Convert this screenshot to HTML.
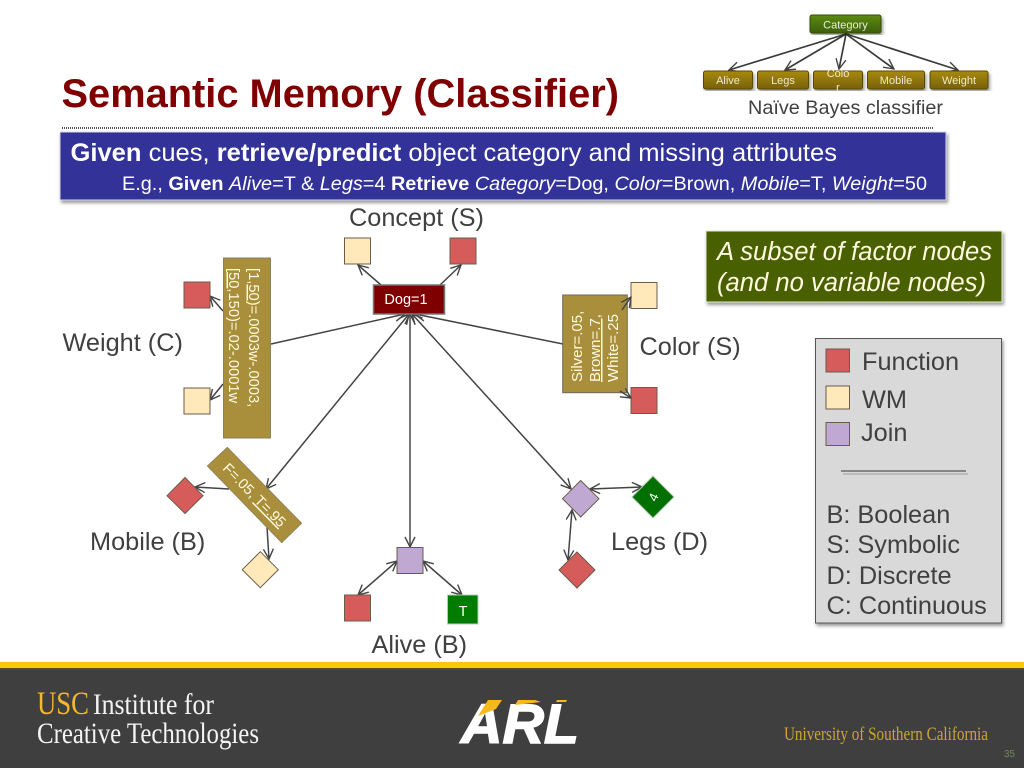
<!DOCTYPE html>
<html><head><meta charset="utf-8"><style>
html,body{margin:0;padding:0;background:#fff}
svg{display:block}
text{font-family:"Liberation Sans",sans-serif}
.l{font-size:25.300px;fill:#404040}
.s{font-size:11px;fill:#fff;text-anchor:middle}
.e{stroke:#3a3a3a;stroke-width:1.700;fill:none}
.a{stroke:#444;stroke-width:1.500;fill:none}
</style></head><body>
<svg width="1024" height="768" viewBox="0 0 1024 768" xmlns="http://www.w3.org/2000/svg">
<defs>
<marker id="m" viewBox="0 0 12 12" refX="11" refY="6" markerWidth="12" markerHeight="12" markerUnits="userSpaceOnUse" orient="auto-start-reverse"><path d="M1 1L11 6L1 11" fill="none" stroke="#444" stroke-width="1.400"/></marker>
<linearGradient id="g1" x1="0" y1="0" x2="0" y2="1"><stop offset="0" stop-color="#5d8a14"/><stop offset="1" stop-color="#3c5f08"/></linearGradient>
<linearGradient id="g2" x1="0" y1="0" x2="0" y2="1"><stop offset="0" stop-color="#a88a10"/><stop offset="1" stop-color="#776008"/></linearGradient>
<filter id="sh" x="-10%" y="-10%" width="120%" height="120%"><feDropShadow dx="1.500" dy="2.500" stdDeviation="1.500" flood-color="#000" flood-opacity=".4"/></filter>
</defs>

<!-- top mini bayes net -->
<g class="e">
<path d="M846 34L729 70" marker-end="url(#m)"/><path d="M846 34L785 70" marker-end="url(#m)"/><path d="M846 34L839 69" marker-end="url(#m)"/><path d="M846 34L894 69" marker-end="url(#m)"/><path d="M846 34L958 70" marker-end="url(#m)"/>
</g>
<rect x="810" y="15" width="71" height="18" rx="2" fill="url(#g1)" stroke="#345005" filter="url(#sh)"/>
<text x="845.500" y="28.500" class="s" style="fill:#e8f0d8">Category</text>
<g fill="url(#g2)" stroke="#5c4a06" filter="url(#sh)">
<rect x="703.500" y="71" width="49" height="18" rx="2"/><rect x="757.500" y="71" width="51" height="18" rx="2"/><rect x="813.500" y="71" width="49" height="18" rx="2"/><rect x="867.500" y="71" width="57" height="18" rx="2"/><rect x="930" y="71" width="58" height="18" rx="2"/>
</g>
<text x="728" y="84" class="s" style="fill:#efe9c8">Alive</text><text x="783" y="84" class="s" style="fill:#efe9c8">Legs</text>
<text x="838" y="77" class="s" style="fill:#efe9c8">Colo</text><text x="838" y="91" class="s" style="fill:#efe9c8">r</text>
<text x="896" y="84" class="s" style="fill:#efe9c8">Mobile</text><text x="959" y="84" class="s" style="fill:#efe9c8">Weight</text>
<text x="748" y="114" textLength="195" lengthAdjust="spacingAndGlyphs" style="font-size:19.800px;fill:#404040">Naïve Bayes classifier</text>

<!-- title -->
<text x="61.500" y="107" textLength="557.500" lengthAdjust="spacingAndGlyphs" style="font-size:39.500px;font-weight:bold;fill:#7f0000">Semantic Memory (Classifier)</text>
<line x1="62" y1="128" x2="933" y2="128" stroke="#555" stroke-width="2" stroke-dasharray="1 1"/>

<!-- blue box -->
<rect x="60" y="132" width="886" height="68" fill="#333399" stroke="#d8d8e8" filter="url(#sh)"/>
<text x="70.500" y="161" textLength="766.500" lengthAdjust="spacingAndGlyphs" style="font-size:25px;fill:#fff"><tspan font-weight="bold">Given</tspan> cues, <tspan font-weight="bold">retrieve/predict</tspan> object category and missing attributes</text>
<text x="122" y="190" textLength="805" lengthAdjust="spacingAndGlyphs" style="font-size:19.500px;fill:#fff">E.g., <tspan font-weight="bold">Given</tspan> <tspan font-style="italic">Alive</tspan>=T &amp; <tspan font-style="italic">Legs</tspan>=4 <tspan font-weight="bold">Retrieve</tspan> <tspan font-style="italic">Category</tspan>=Dog, <tspan font-style="italic">Color</tspan>=Brown, <tspan font-style="italic">Mobile</tspan>=T, <tspan font-style="italic">Weight</tspan>=50</text>

<!-- green note -->
<rect x="706" y="231" width="296" height="71" fill="#4a6100" stroke="#e4ead0" filter="url(#sh)"/>
<text x="717" y="260" textLength="275" lengthAdjust="spacingAndGlyphs" style="font-size:25.500px;font-style:italic;fill:#fff8e0">A subset of factor nodes</text>
<text x="717" y="291" textLength="269" lengthAdjust="spacingAndGlyphs" style="font-size:25.500px;font-style:italic;fill:#fff8e0">(and no variable nodes)</text>

<!-- connectors -->
<g class="a">
<path d="M381 285L358 265" marker-end="url(#m)"/>
<path d="M440 285L461 265" marker-end="url(#m)"/>
<path d="M271 344L405 314" marker-end="url(#m)"/>
<path d="M563 344L415 314" marker-end="url(#m)"/>
<path d="M266 489L409 314" marker-start="url(#m)" marker-end="url(#m)"/>
<path d="M410 547L410 314" marker-start="url(#m)" marker-end="url(#m)" stroke-width="1.800" stroke="#666"/>
<path d="M571 489L412 314" marker-start="url(#m)" marker-end="url(#m)"/>
<path d="M223 311L210 296" marker-end="url(#m)"/>
<path d="M223 384L210 400" marker-end="url(#m)"/>
<path d="M229 489L195 487" marker-end="url(#m)"/>
<path d="M267 527L269 559" marker-end="url(#m)"/>
<path d="M397 561L358 595" marker-start="url(#m)" marker-end="url(#m)"/>
<path d="M423 561L462 595" marker-start="url(#m)" marker-end="url(#m)"/>
<path d="M590 489L642 487" marker-start="url(#m)" marker-end="url(#m)"/>
<path d="M572 510L568 560" marker-start="url(#m)" marker-end="url(#m)"/>
</g>

<!-- nodes -->
<g stroke="#6a5c4a" stroke-width="1">
<rect x="344.500" y="238" width="26" height="26" fill="#ffe8ba"/>
<rect x="450" y="238" width="26" height="26" fill="#d65c5c"/>
<rect x="184" y="282" width="26" height="26" fill="#d65c5c"/>
<rect x="184" y="388" width="26" height="26" fill="#ffe8ba"/>
<rect x="631" y="282.500" width="26" height="26" fill="#ffe8ba"/>
<rect x="631" y="387.500" width="26" height="26" fill="#d65c5c"/>
<rect x="397" y="547.500" width="26" height="26" fill="#bfa8d2"/>
<rect x="344.500" y="595" width="26" height="26" fill="#d65c5c"/>
<polygon points="185,477.500 203,495.700 185,513.500 167,495.700" fill="#d65c5c"/>
<polygon points="260.300,551.700 278.300,569.700 260.300,587.700 242.300,569.700" fill="#ffe8ba"/>
<polygon points="580.700,480.500 599,498.700 580.700,517 562.500,498.700" fill="#bfa8d2"/>
<polygon points="577,552 595,570 577,588 559,570" fill="#d65c5c"/>
</g>
<rect x="447.500" y="595" width="30.500" height="29" fill="#007c00" stroke="#b8c8b8"/>
<text x="463" y="616" text-anchor="middle" style="font-size:14.500px;fill:#fff">T</text>
<polygon points="653,476 674,497 653,518 632,497" fill="#007000" stroke="#b8c8b8"/>
<text x="653" y="502" text-anchor="middle" transform="rotate(-65 653 497)" style="font-size:13px;fill:#fff">4</text>

<rect x="373.500" y="285" width="71" height="29" fill="#7f0000" stroke="#777" stroke-width="1.500"/>
<text x="406" y="304" text-anchor="middle" style="font-size:14.500px;fill:#fff">Dog=1</text>

<!-- factor boxes -->
<rect x="223.500" y="258" width="47" height="180" fill="#a98e3b" stroke="#8a8062"/>
<g transform="translate(257 268) rotate(90)">
<text style="font-size:14.700px;fill:#fffbe0"><tspan x="0" y="8">[1,<tspan text-decoration="underline">50</tspan>)=.0003w-.0003,</tspan><tspan x="0" y="28"><tspan text-decoration="underline">[50</tspan>,150)=.02-.0001w</tspan></text>
</g>
<rect x="562.700" y="295" width="64.600" height="97.700" fill="#a98e3b" stroke="#6e6a55"/>
<g transform="translate(582 382) rotate(-90)">
<text style="font-size:15px;fill:#fffbe0"><tspan x="0" y="0">Silver=.05,</tspan><tspan x="0" y="18" text-decoration="underline">Brown=.7,</tspan><tspan x="0" y="36">White=.25</tspan></text>
</g>
<path d="M622 310L631 297" class="a" marker-end="url(#m)"/>
<path d="M620 391L631 398" class="a" marker-end="url(#m)"/>
<polygon points="227.300,447.300 207.300,466 281.700,542.700 301.700,523.300" fill="#a98e3b" stroke="#8a8062" stroke-width=".8"/>
<g transform="translate(254.500 495) rotate(45.500)">
<text x="0" y="5" text-anchor="middle" style="font-size:14.500px;fill:#fffbe0">F=.05, <tspan text-decoration="underline">T=.95</tspan></text>
</g>

<!-- labels -->
<text x="349" y="226" class="l">Concept (S)</text>
<text x="62.500" y="351" class="l">Weight (C)</text>
<text x="639.500" y="355" class="l">Color (S)</text>
<text x="90" y="550" class="l">Mobile (B)</text>
<text x="611" y="550" class="l">Legs (D)</text>
<text x="371.500" y="653" class="l">Alive (B)</text>

<!-- legend -->
<rect x="815.500" y="338.500" width="186" height="284.500" fill="#d9d9d9" stroke="#555" filter="url(#sh)"/>
<rect x="826" y="349" width="23.500" height="23" fill="#d65c5c" stroke="#6a5c4a"/>
<rect x="826" y="386" width="23.500" height="23" fill="#ffe8ba" stroke="#6a5c4a"/>
<rect x="826" y="422.500" width="23.500" height="23" fill="#bfa8d2" stroke="#6a5c4a"/>
<text x="862" y="370" class="l">Function</text>
<text x="862" y="408" class="l">WM</text>
<text x="861" y="441" class="l">Join</text>
<line x1="841" y1="471" x2="966" y2="471" stroke="#555" stroke-width="1.200"/>
<line x1="843" y1="474" x2="968" y2="474" stroke="#bbb" stroke-width="2"/>
<text x="826.500" y="523" class="l">B: Boolean</text>
<text x="826.500" y="553" class="l">S: Symbolic</text>
<text x="826.500" y="584" class="l">D: Discrete</text>
<text x="826.500" y="614" class="l">C: Continuous</text>

<!-- footer -->
<rect x="0" y="663" width="1024" height="105" fill="#3f3f3f"/>
<rect x="0" y="662" width="1024" height="6" fill="#fdc70c"/>
<rect x="0" y="668" width="1024" height="2" fill="#5a4d14"/>
<text x="37" y="714" textLength="52" lengthAdjust="spacingAndGlyphs" style="font-family:'Liberation Serif',serif;font-size:33px;fill:#f5b82a">USC</text>
<text x="93" y="714" textLength="121" lengthAdjust="spacingAndGlyphs" style="font-family:'Liberation Serif',serif;font-size:30px;fill:#f4f4f4">Institute for</text>
<text x="37" y="743" textLength="222" lengthAdjust="spacingAndGlyphs" style="font-family:'Liberation Serif',serif;font-size:30px;fill:#f4f4f4">Creative Technologies</text>
<text x="784" y="740" textLength="204" lengthAdjust="spacingAndGlyphs" style="font-family:'Liberation Serif',serif;font-size:19px;fill:#cda531">University of Southern California</text>
<!-- ARL logo -->
<text x="461" y="743" textLength="118" lengthAdjust="spacingAndGlyphs" style="font-size:56px;font-weight:bold;font-style:italic;fill:#fff;stroke:#fff;stroke-width:1.500">ARL</text>
<polygon points="478,716 488,700 502,700 496,709" fill="#f6b91d"/>
<polygon points="515,705 518,700 535,700 541,702" fill="#f6b91d"/>
<polygon points="557,700 567,700 566,702 556,702" fill="#f6b91d"/>
<text x="1015" y="757" text-anchor="end" style="font-size:10px;fill:#6e8a5a">35</text>
</svg>
</body></html>
